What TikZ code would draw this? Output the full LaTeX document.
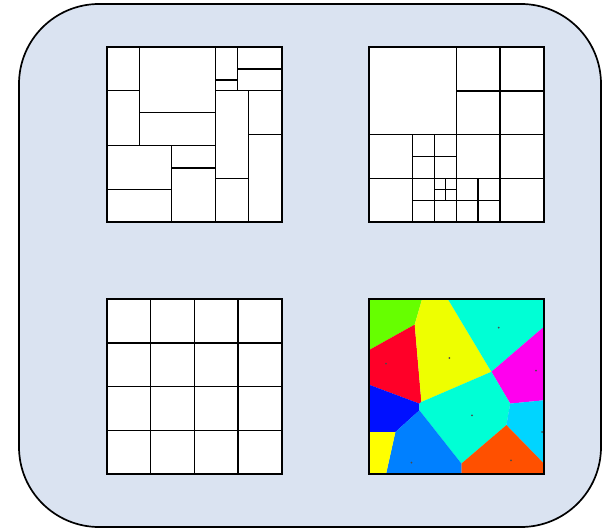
\documentclass[tikz,border=0pt]{standalone}
\usepackage{tikz}
\usetikzlibrary{calc}
\usepackage{xcolor}
\definecolor{panelbg}{HTML}{DAE3F1}
\definecolor{vgreen}{HTML}{66FF00}
\definecolor{vred}{HTML}{FF0028}
\definecolor{vyellow}{HTML}{EEFF00}
\definecolor{vaqua}{HTML}{00FFD5}
\definecolor{vmagenta}{HTML}{FF00EE}
\definecolor{vblue}{HTML}{0010FF}
\definecolor{vazure}{HTML}{0080FF}
\definecolor{vsky}{HTML}{00D5FF}
\definecolor{vorange}{HTML}{FF5000}
\definecolor{vlemon}{HTML}{FFFF00}

\begin{document}
\begin{tikzpicture}[x=1pt, y=-1pt,
  cell/.style={line width=1.3pt},
  frame/.style={line width=1.7pt},
  seed/.style={fill=black!70}]
  \useasboundingbox (0,0) rectangle (611,532);
  \draw[frame, fill=panelbg, rounded corners=80pt] (19,4) rectangle (601,527);

  % irregular partition
  \begin{scope}[shift={(106.7,47.3)}]
    \fill[white] (0,0) rectangle (175,175);
    \draw[cell] (32.7,0) -- (32.7,98);
    \draw[cell] (0,43.3) -- (32.7,43.3);
    \draw[cell] (0,98) -- (109,98);
    \draw[cell] (109,0) -- (109,175);
    \draw[cell] (32.7,65.3) -- (109,65.3);
    \draw[cell] (65,98) -- (65,175);
    \draw[cell] (0,142) -- (65,142);
    \draw[cell] (65,120.7) -- (109,120.7);
    \draw[cell] (131,0) -- (131,43.3);
    \draw[cell] (109,43.3) -- (175,43.3);
    \draw[cell] (109,32.7) -- (131,32.7);
    \draw[cell] (131,21.7) -- (175,21.7);
    \draw[cell] (142,43.3) -- (142,175);
    \draw[cell] (109,131) -- (142,131);
    \draw[cell] (142,87.3) -- (175,87.3);
    \draw[frame] (0,0) rectangle (175,175);
  \end{scope}

  % quadtree
  \begin{scope}[shift={(368.7,47.3)}]
    \fill[white] (0,0) rectangle (175,175);
    \draw[cell] (87.5,0) -- (87.5,175);
    \draw[cell] (0,87.5) -- (175,87.5);
    \draw[cell] (131.25,0) -- (131.25,175);
    \draw[cell] (87.5,43.75) -- (175,43.75);
    \draw[cell] (43.75,87.5) -- (43.75,175);
    \draw[cell] (0,131.25) -- (175,131.25);
    \draw[cell] (65.6,87.5) -- (65.6,175);
    \draw[cell] (43.75,109.4) -- (87.5,109.4);
    \draw[cell] (43.75,153.1) -- (131.25,153.1);
    \draw[cell] (76.6,131.25) -- (76.6,153.1);
    \draw[cell] (65.6,142.2) -- (87.5,142.2);
    \draw[cell] (109.4,131.25) -- (109.4,175);
    \draw[frame] (0,0) rectangle (175,175);
  \end{scope}

  % regular grid
  \begin{scope}[shift={(106.7,299.3)}]
    \fill[white] (0,0) rectangle (175,175);
    \foreach \k in {1,2,3}
      \draw[cell] (43.75*\k,0) -- (43.75*\k,175)
                  (0,43.75*\k) -- (175,43.75*\k);
    \draw[frame] (0,0) rectangle (175,175);
  \end{scope}

  % voronoi
  \begin{scope}[shift={(368.7,299.3)}]
    \fill[vgreen] (0,0) -- (53.3,0) -- (46,25.3) -- (0,51) -- cycle;
    \fill[vred] (0,51) -- (46,25.3) -- (52.7,102.7) -- (50.7,104.3) -- (0,85.3) -- cycle;
    \fill[vblue] (0,85.3) -- (50.7,104.3) -- (50.7,111) -- (26.7,132.7) -- (0,132.7) -- cycle;
    \fill[vyellow] (53.3,0) -- (79.3,0) -- (122.7,72.5) -- (52.7,102.7) -- (46,25.3) -- cycle;
    \fill[vaqua] (79.3,0) -- (175,0) -- (175,27.7) -- (122.7,72.5) -- cycle;
    \fill[vmagenta] (175,27.7) -- (122.7,72.5) -- (141.5,104.3) -- (175,101) -- cycle;
    \fill[vaqua] (52.7,102.7) -- (122.7,72.5) -- (141.5,104.3) -- (137.7,125.8) -- (92.7,164.3)
      -- (50.7,111) -- (50.7,104.3) -- cycle;
    \fill[vsky] (141.5,104.3) -- (175,101) -- (175,164) -- (137.7,125.8) -- cycle;
    \fill[vorange] (137.7,125.8) -- (175,164) -- (175,175) -- (92.7,175) -- (92.7,164.3) -- cycle;
    \fill[vazure] (50.7,111) -- (92.7,164.3) -- (92.7,175) -- (17.3,175) -- (26.7,132.7) -- cycle;
    \fill[vlemon] (0,132.7) -- (26.7,132.7) -- (17.3,175) -- (0,175) -- cycle;
    \foreach \p in {(17.3,64.3),(80.7,58.7),(130,28.3),(167.3,71.3),(103.3,116),
                    (173.3,132.7),(142.3,161),(42.7,163.3)}
      \fill[seed] \p circle (1);
    \draw[frame] (0,0) rectangle (175,175);
  \end{scope}
\end{tikzpicture}
\end{document}
